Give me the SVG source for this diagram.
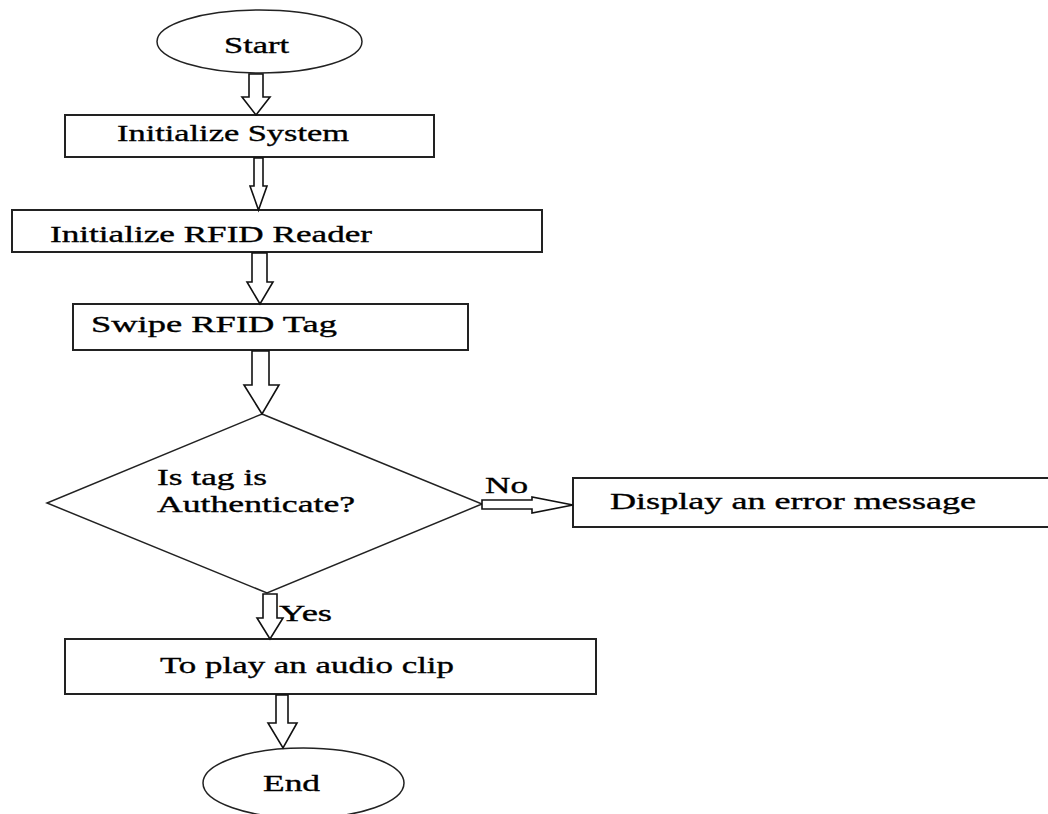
<svg xmlns="http://www.w3.org/2000/svg" width="1048" height="814" viewBox="0 0 1048 814">
<style>
  .box { fill: #fff; stroke: #222; stroke-width: 2; }
  .thin { fill: #fff; stroke: #222; stroke-width: 1.5; }
  .arrow { fill: #fff; stroke: #111; stroke-width: 1.6; stroke-linejoin: miter; }
  text { font-family: "Liberation Serif", "Times New Roman", serif; font-size: 24px; fill: #000; stroke: #000; stroke-width: 0.35; }
</style>
<rect width="1048" height="814" fill="#fff"/>

<g id="start">
  <ellipse class="thin" cx="259.5" cy="41.5" rx="102.5" ry="31.5"/>
  <text transform="translate(224,53) scale(1.43,1)" textLength="45.5" lengthAdjust="spacingAndGlyphs">Start</text>
</g>

<g id="init-system">
  <rect class="box" x="65" y="115" width="369" height="42"/>
  <text transform="translate(117,141) scale(1.43,1)" textLength="162.2" lengthAdjust="spacingAndGlyphs">Initialize System</text>
</g>

<g id="init-reader">
  <rect class="box" x="12" y="210" width="530" height="42"/>
  <text transform="translate(50,242) scale(1.43,1)" textLength="225.2" lengthAdjust="spacingAndGlyphs">Initialize RFID Reader</text>
</g>

<g id="swipe">
  <rect class="box" x="73" y="304" width="395" height="46"/>
  <text transform="translate(91,332) scale(1.43,1)" textLength="172" lengthAdjust="spacingAndGlyphs">Swipe RFID Tag</text>
</g>

<g id="decision">
  <polygon class="thin" points="262,414 482,504 267,593 47,503"/>
  <text transform="translate(157,485) scale(1.43,1)" textLength="76.9" lengthAdjust="spacingAndGlyphs">Is tag is</text>
  <text transform="translate(157,512) scale(1.43,1)" textLength="138.5" lengthAdjust="spacingAndGlyphs">Authenticate?</text>
</g>

<g id="error">
  <rect class="box" x="573" y="478" width="490" height="49"/>
  <text transform="translate(610,509) scale(1.43,1)" textLength="256" lengthAdjust="spacingAndGlyphs">Display an error message</text>
</g>

<g id="audio">
  <rect class="box" x="65" y="639" width="531" height="55"/>
  <text transform="translate(160,673) scale(1.43,1)" textLength="205.6" lengthAdjust="spacingAndGlyphs">To play an audio clip</text>
</g>

<g id="end">
  <ellipse class="thin" cx="303.5" cy="783" rx="100.5" ry="35"/>
  <text transform="translate(263,791) scale(1.43,1)" textLength="39.9" lengthAdjust="spacingAndGlyphs">End</text>
</g>

<g id="connectors">
  <polygon class="arrow" points="249,74 263,74 263,97 270,97 256,115 242,97 249,97"/>
  <polygon class="arrow" points="254,158 263,158 263,186 267,186 258.5,210 250,186 254,186"/>
  <polygon class="arrow" points="252,253 267,253 267,282 273,282 260,304 247,282 252,282"/>
  <polygon class="arrow" points="252,351 269,351 269,385 279,385 262,414 244,385 252,385"/>
  <polygon class="arrow" points="482,500 532,500 532,497 573,505 532,513 532,509 482,509"/>
  <polygon class="arrow" points="263,594 277,594 277,618 283,618 270,639 257,618 263,618"/>
  <polygon class="arrow" points="276,695 288,695 288,723 297,723 283,748 268,723 276,723"/>
  <text transform="translate(485,493) scale(1.43,1)" textLength="30.1" lengthAdjust="spacingAndGlyphs">No</text>
  <text transform="translate(279,621) scale(1.43,1)" textLength="37.1" lengthAdjust="spacingAndGlyphs">Yes</text>
</g>
</svg>
